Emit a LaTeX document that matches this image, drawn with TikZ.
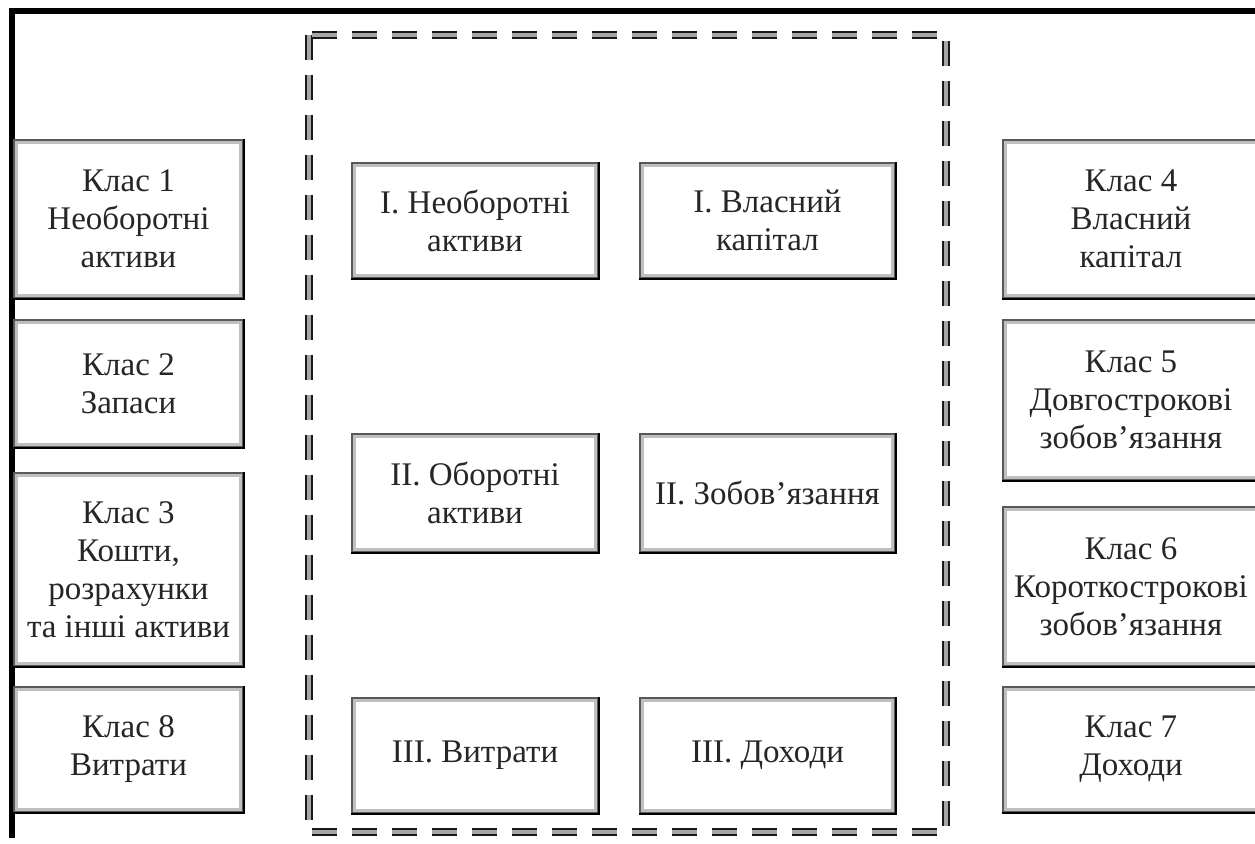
\documentclass[tikz,border=0pt]{standalone}
\usepackage{fontspec}
\setmainfont{Liberation Serif}
\usetikzlibrary{positioning}

\begin{document}
\begin{tikzpicture}[
    x=0.5pt, y=-0.5pt,
    klas/.style={
        draw=black!65,
        line width=1.2pt,
        fill=white,
        align=center,
        inner sep=0pt,
        text=black!85,
        font=\fontsize{16.5}{19}\selectfont,
        path picture={\draw[gray!50, line width=3.8pt]
            (path picture bounding box.south west) rectangle
            (path picture bounding box.north east);}
    },
    leftcol/.style={klas, minimum width=114.5pt},
    rightcol/.style={klas, minimum width=128pt},
    colA/.style={klas, minimum width=123pt},
    colB/.style={klas, minimum width=127.5pt},
    rim/.style={line width=1.2pt, black}
]
\path[use as bounding box] (0,0) rectangle (1255,843);
\clip (0,0) rectangle (1255,843);

% frame of the page
\draw[line width=2.6pt] (12,838) -- (12,11) -- (1255,11);

% balance sheet (dashed)
\draw[line width=4pt, black!90, dash pattern=on 12.5pt off 7.5pt] (309,35) rectangle (946,832);
\draw[line width=1.8pt, gray!70, dash pattern=on 12.5pt off 7.5pt] (309,35) rectangle (946,832);

% classes of the chart of accounts
\node[leftcol, minimum height=79pt] (k1) at (128.5,219) {Клас 1\\Необоротні\\активи};
\node[leftcol, minimum height=63.5pt] (k2) at (128.5,383.5) {Клас 2\\Запаси};
\node[leftcol, minimum height=96.5pt] (k3) at (128.5,569.5) {Клас 3\\Кошти,\\розрахунки\\та інші активи};
\node[leftcol, minimum height=62.5pt] (k8) at (128.5,749.5) {Клас 8\\Витрати};

\node[rightcol, minimum height=79pt] (k4) at (1131,219) {Клас 4\\Власний\\капітал};
\node[rightcol, minimum height=80pt] (k5) at (1131,400) {Клас 5\\Довгострокові\\зобов’язання};
\node[rightcol, minimum height=79.5pt] (k6) at (1131,586.5) {Клас 6\\Короткострокові\\зобов’язання};
\node[rightcol, minimum height=62.5pt] (k7) at (1131,749.5) {Клас 7\\Доходи};

% sections of the balance
\node[colA, minimum height=57.5pt] (a1) at (475,220.5) {I. Необоротні\\активи};
\node[colA, minimum height=59pt] (a2) at (475,493) {II. Оборотні\\активи};
\node[colA, minimum height=57.5pt] (a3) at (475,755.5) {III. Витрати};

\node[colB, minimum height=57.5pt] (b1) at (767.5,220.5) {I. Власний\\капітал};
\node[colB, minimum height=59pt] (b2) at (767.5,493) {II. Зобов’язання};
\node[colB, minimum height=57.5pt] (b3) at (767.5,755.5) {III. Доходи};

% dark lower and right edges
\foreach \n in {k1,k2,k3,k8,k4,k5,k6,k7,a1,a2,a3,b1,b2,b3}
    \draw[rim] (\n.south west) -- (\n.south east) -- (\n.north east);
\end{tikzpicture}
\end{document}
